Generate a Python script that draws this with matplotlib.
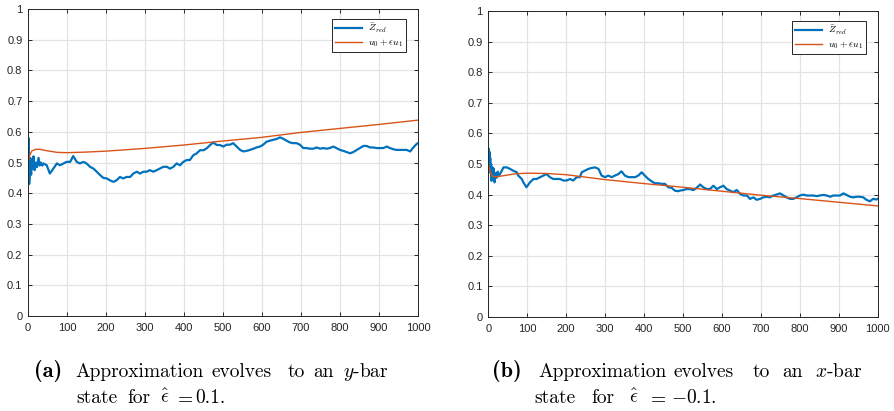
import numpy as np
import matplotlib
matplotlib.use("Agg")
import matplotlib.pyplot as plt

plt.rcParams["font.family"] = ["Liberation Sans", "DejaVu Sans"]
plt.rcParams["mathtext.fontset"] = "cm"

BLUE = "#0072BD"
ORANGE = "#D95319"
AXC = "#262626"

# (a) eps = 0.1
t_a = [0, 1, 2, 3, 5, 6, 8, 10, 12, 14, 17, 20, 23, 27, 30, 33, 37,
       39, 48, 56, 65, 74, 82, 91, 99, 108, 116, 125, 133, 142, 150, 159, 168,
       176, 185, 193, 202, 210, 219, 227, 236, 244, 253, 262, 270, 279, 287,
       296, 304, 313, 321, 330, 338, 347, 356, 364, 373, 381, 390, 398, 407,
       415, 424, 432, 441, 450, 458, 467, 475, 484, 492, 501, 509, 518, 526,
       535, 544, 552, 561, 569, 578, 586, 595, 603, 612, 620, 629, 638, 646,
       655, 663, 672, 680, 689, 697, 706, 714, 723, 732, 740, 749, 757, 766,
       774, 783, 791, 800, 808, 817, 826, 834, 843, 851, 860, 868, 877, 885,
       894, 903, 911, 920, 928, 937, 945, 954, 962, 971, 980, 988, 997, 1000]
z_a = [0.50, 0.58, 0.50, 0.43, 0.47, 0.515, 0.46, 0.505, 0.48, 0.52, 0.475,
       0.50, 0.485, 0.515, 0.49, 0.50, 0.49,
       0.497, 0.491, 0.464, 0.480, 0.497, 0.491, 0.497, 0.502, 0.502, 0.521,
       0.502, 0.497, 0.502, 0.497, 0.486, 0.480, 0.470, 0.459, 0.450, 0.448,
       0.442, 0.437, 0.442, 0.453, 0.448, 0.453, 0.453, 0.464, 0.470, 0.464,
       0.470, 0.470, 0.475, 0.470, 0.475, 0.480, 0.486, 0.486, 0.480, 0.486,
       0.497, 0.491, 0.502, 0.508, 0.508, 0.524, 0.529, 0.540, 0.540, 0.546,
       0.557, 0.565, 0.557, 0.557, 0.552, 0.558, 0.558, 0.563, 0.552, 0.541,
       0.536, 0.538, 0.541, 0.545, 0.549, 0.552, 0.558, 0.568, 0.571, 0.574,
       0.577, 0.582, 0.577, 0.571, 0.565, 0.563, 0.563, 0.558, 0.547, 0.547,
       0.545, 0.545, 0.549, 0.545, 0.547, 0.545, 0.547, 0.552, 0.547, 0.541,
       0.538, 0.534, 0.530, 0.534, 0.541, 0.547, 0.554, 0.554, 0.549, 0.549,
       0.547, 0.547, 0.547, 0.552, 0.547, 0.543, 0.541, 0.541, 0.541, 0.541,
       0.536, 0.549, 0.561, 0.563]
tu_a = [0, 5, 10, 20, 30, 50, 75, 100, 150, 200, 300, 400, 500, 600, 700,
        800, 900, 1000]
u_a = [0.50, 0.525, 0.538, 0.543, 0.543, 0.538, 0.533, 0.532, 0.534, 0.537,
       0.546, 0.557, 0.570, 0.582, 0.598, 0.611, 0.624, 0.638]

# (b) eps = -0.1
t_b = [0, 1, 2, 3, 4, 5, 6, 7, 8, 10, 12, 14, 16, 18, 21, 24, 27,
       30, 39, 47, 56, 64, 73, 77, 86, 90, 98, 107, 116, 124, 133, 141, 150,
       158, 167, 176, 184, 193, 201, 210, 218, 227, 235, 240, 248, 257, 265,
       274, 283, 291, 300, 308, 317, 325, 334, 342, 351, 360, 368, 377, 385,
       394, 402, 411, 420, 428, 437, 445, 454, 462, 471, 479, 488, 492, 501,
       509, 518, 527, 535, 544, 552, 561, 569, 578, 587, 595, 604, 612, 621,
       629, 638, 647, 655, 664, 672, 681, 689, 698, 706, 715, 723, 732, 740,
       749, 758, 766, 775, 783, 792, 800, 809, 818, 826, 835, 843, 852, 860,
       869, 878, 886, 895, 903, 912, 920, 929, 937, 946, 954, 963, 971, 980,
       988, 997, 1000]
z_b = [0.50, 0.55, 0.52, 0.54, 0.49, 0.52, 0.47, 0.50, 0.445, 0.49, 0.46,
       0.485, 0.44, 0.47, 0.455, 0.475, 0.46,
       0.467, 0.489, 0.489, 0.484, 0.478, 0.473, 0.462, 0.451, 0.440, 0.424,
       0.440, 0.451, 0.451, 0.457, 0.462, 0.467, 0.457, 0.451, 0.451, 0.451,
       0.446, 0.446, 0.451, 0.446, 0.457, 0.457, 0.473, 0.478, 0.484, 0.487,
       0.489, 0.484, 0.462, 0.457, 0.462, 0.457, 0.462, 0.467, 0.476, 0.462,
       0.457, 0.457, 0.457, 0.462, 0.473, 0.462, 0.451, 0.443, 0.437, 0.437,
       0.435, 0.435, 0.424, 0.422, 0.413, 0.411, 0.413, 0.415, 0.418, 0.418,
       0.415, 0.422, 0.433, 0.424, 0.418, 0.418, 0.429, 0.418, 0.424, 0.429,
       0.418, 0.413, 0.408, 0.415, 0.402, 0.397, 0.397, 0.386, 0.391, 0.383,
       0.386, 0.391, 0.393, 0.391, 0.397, 0.400, 0.404, 0.397, 0.391, 0.386,
       0.386, 0.391, 0.397, 0.400, 0.397, 0.397, 0.397, 0.395, 0.397, 0.399,
       0.397, 0.393, 0.397, 0.397, 0.397, 0.404, 0.399, 0.393, 0.391, 0.393,
       0.393, 0.391, 0.383, 0.378, 0.386, 0.384, 0.386]
tu_b = [0, 5, 10, 20, 40, 70, 100, 150, 200, 300, 400, 500, 600, 700, 800,
        900, 1000]
u_b = [0.50, 0.475, 0.46, 0.458, 0.462, 0.468, 0.470, 0.469, 0.465, 0.449,
       0.436, 0.424, 0.411, 0.398, 0.387, 0.375, 0.363]

W, H = 895, 411


def fx(px):
    return px / W


def fy(py):
    return 1 - py / H


def style_axes(ax):
    ax.set_xlim(0, 1000)
    ax.set_ylim(0, 1)
    ax.set_xticks(np.arange(0, 1001, 100))
    ax.set_yticks(np.arange(0, 1.01, 0.1))
    ax.set_yticklabels(["0", "0.1", "0.2", "0.3", "0.4", "0.5", "0.6",
                        "0.7", "0.8", "0.9", "1"])
    ax.grid(True, color="#e3e3e3", linewidth=0.9)
    ax.set_axisbelow(True)
    ax.tick_params(direction="in", length=3, width=0.7, colors=AXC,
                   labelsize=8, top=True, right=True, pad=4)
    ax.tick_params(axis="x", pad=5)
    for s in ax.spines.values():
        s.set_color(AXC)
        s.set_linewidth(0.7)


fig = plt.figure(figsize=(W / 100, H / 100), dpi=100)
ax1 = fig.add_axes([fx(28), fy(316), fx(390), 307 / H])
ax2 = fig.add_axes([fx(488.3), fy(317), fx(389.4), 306 / H])

for ax, t, z, tu, u in [(ax1, t_a, z_a, tu_a, u_a), (ax2, t_b, z_b, tu_b, u_b)]:
    style_axes(ax)
    ax.plot(t, z, color=BLUE, linewidth=1.6, label=r"$\bar{Z}_{red}$")
    ax.plot(tu, u, color=ORANGE, linewidth=1.0, label=r"$u_0 + \epsilon u_1$")
    leg = ax.legend(loc="upper right", bbox_to_anchor=(0.969, 0.967),
                    fontsize=7, handlelength=2.8, borderpad=0.3,
                    labelspacing=0.2, handletextpad=0.6, borderaxespad=0,
                    fancybox=False, framealpha=1)
    leg.get_frame().set_edgecolor(AXC)
    leg.get_frame().set_linewidth(0.7)

# captions, one word at a time so the lines come out justified
cap = dict(fontsize=14, family="cmr10", va="baseline", color="black")
bold = dict(fontsize=16, family="cmb10", va="baseline", color="black")

captions = [
    (34, "(a)",
     [(75, "Approximation"), (212, "evolves"), (288, "to"), (313, "an"),
      (343, r"$y$-bar")],
     [(76, "state"), (127, "for"), (160, r"$\hat{\epsilon}$"), (174, r"$=$"),
      (195, "0.1.")]),
    (492, "(b)",
     [(538, "Approximation"), (673, "evolves"), (753, "to"), (782, "an"),
      (815, r"$x$-bar")],
     [(534, "state"), (591, "for"), (629, r"$\hat{\epsilon}$"), (647, r"$=$"),
      (671, r"$-$0.1.")]),
]
for xl, tag, line1, line2 in captions:
    fig.text(fx(xl), fy(377), tag, **bold)
    for x, w in line1:
        fig.text(fx(x), fy(377), w, **cap)
    for x, w in line2:
        fig.text(fx(x), fy(403), w, **cap)

fig.savefig("out.png", dpi=100)
